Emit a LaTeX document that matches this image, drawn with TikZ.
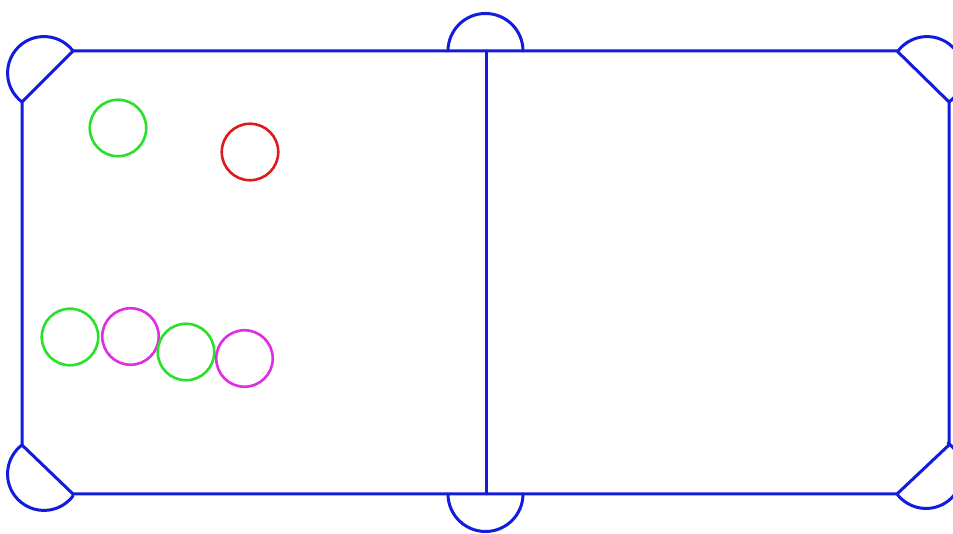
\documentclass[tikz,border=0pt]{standalone}
\definecolor{railblue}{RGB}{18,28,222}
\definecolor{ballgreen}{RGB}{40,225,40}
\definecolor{ballred}{RGB}{222,25,25}
\definecolor{ballmag}{RGB}{225,45,225}
\begin{document}
\begin{tikzpicture}[x=1pt,y=1pt,
  rail/.style={draw=railblue,line width=3pt,line join=round,line cap=round},
  ball/.style={circle,draw,line width=2.6pt,minimum size=56.5pt,inner sep=0pt}]
\useasboundingbox[fill=white] (0,0) rectangle (953,534);
% table outline
\draw[rail] (22,432) -- (22,89) -- (73,40) -- (897,40) -- (949,89) -- (949,432) -- (897,483) -- (73,483) -- cycle;
% centre line
\draw[rail] (486,483) -- (486,40);
% corner pockets
\draw[rail] (73,483) arc[start angle=37.1,end angle=232.9,radius=36.4];
\draw[rail] (22,89) arc[start angle=127.1,end angle=322.9,radius=36.4];
\draw[rail] (949,432) arc[start angle=-52.9,end angle=142.9,radius=36.4];
\draw[rail] (897,40) arc[start angle=217.1,end angle=412.9,radius=36.4];
% middle pockets
\draw[rail] (523,483) arc[start angle=0,end angle=180,radius=37.5];
\draw[rail] (448,40) arc[start angle=180,end angle=360,radius=37.5];
% balls
\node[ball,draw=ballgreen] (g1) at (118,406) {};
\node[ball,draw=ballred] (r1) at (250,382) {};
\node[ball,draw=ballgreen] (g2) at (70,197) {};
\node[ball,draw=ballmag] (m1) at (130.5,197.5) {};
\node[ball,draw=ballgreen] (g3) at (186,182) {};
\node[ball,draw=ballmag] (m2) at (244.5,175.5) {};
\end{tikzpicture}
\end{document}
